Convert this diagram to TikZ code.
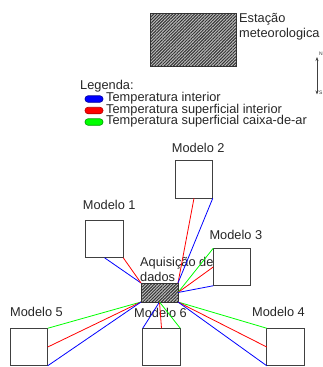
\documentclass[tikz,border=0pt]{standalone}
\usepackage{fontspec}
\setmainfont{Liberation Sans}
\usetikzlibrary{patterns.meta,arrows.meta}
\begin{document}
\begin{tikzpicture}[x=1pt,y=-1pt,
  txt/.style={inner sep=0pt,anchor=base west,font=\fontsize{12.8}{14}\selectfont,text=black!85},
  tiny/.style={inner sep=0pt,anchor=west,font=\fontsize{5}{6}\selectfont,text=black!80},
  modelbox/.style={draw=black!75,line width=0.9pt,fill=white,minimum width=37.5pt,minimum height=37.5pt,inner sep=0pt,outer sep=0pt},
  hatchbox/.style={draw=black!80,line width=0.9pt,inner sep=0pt,outer sep=0pt,fill=black!25,
    postaction={pattern={Lines[angle=45,distance=2.2pt,line width=1pt]},pattern color=black!80}},
  pill/.style={rounded corners=3pt,minimum width=18pt,minimum height=6.5pt,inner sep=0pt,line width=0.6pt},
  wire/.style={line width=0.8pt}
]
\useasboundingbox (0,0) rectangle (323,367);
% weather station
\node[hatchbox,minimum width=86pt,minimum height=53pt] (st) at (193,39.5) {};
\node[txt] (st1) at (239,22.5) {Estação};
\node[txt] (st2) at (239,37.5) {meteorologica};
% compass
\coordinate (cn) at (317,57);
\coordinate (cs) at (317,94.5);
\draw[line width=0.8pt,black!75,{Stealth[length=4pt,width=3pt]}-{Stealth[length=4pt,width=3pt]}] (cn) -- (cs);
\node[tiny] (nN) at (319,54) {N};
\node[tiny] (nS) at (319,93) {S};
% legend
\node[txt] (leg) at (80,89.3) {Legenda:};
\node[pill,fill=blue,draw=blue!60!black] (pb) at (94,99) {};
\node[pill,fill=red,draw=red!70!black] (pr) at (94,110.5) {};
\node[pill,fill=green,draw=green!60!black] (pg) at (94,122) {};
\node[txt] (lb) at (106,101.5) {Temperatura interior};
\node[txt] (lr) at (106,113) {Temperatura superficial interior};
\node[txt] (lg) at (106,124.5) {Temperatura superficial caixa-de-ar};
% model boxes
\node[modelbox] (m1) at (104.5,239) {};
\node[modelbox] (m2) at (194,179.5) {};
\node[modelbox] (m3) at (232,267) {};
\node[modelbox] (m5) at (29,347) {};
\node[modelbox] (m6) at (161.5,347) {};
\node[modelbox] (m4) at (285.5,347) {};
\node[txt] (l1) at (82.7,209.5) {Modelo 1};
\node[txt] (l2) at (171.7,152) {Modelo 2};
\node[txt] (l3) at (209.3,239.5) {Modelo 3};
\node[txt] (l5) at (10,316.7) {Modelo 5};
\node[txt] (l6) at (134,317) {Modelo 6};
\node[txt] (l4) at (252,316.7) {Modelo 4};
% acquisition
\node[hatchbox,minimum width=37pt,minimum height=19pt] (aq) at (159.5,292.5) {};
\node[txt] (aq1) at (140,266.5) {Aquisição de};
\node[txt] (aq2) at (140,281.5) {dados};
% wires
\draw[wire,blue] (m1.south) -- (aq.north west);
\draw[wire,red] (m1.south east) -- (aq.north west);
\draw[wire,red] (m2.south) -- (aq.north east);
\draw[wire,blue] (m2.south east) -- (aq.north east);
\draw[wire,green] (m3.north west) -- (aq.east);
\draw[wire,red] (m3.west) -- (aq.east);
\draw[wire,blue] (m3.south west) -- (aq.east);
\draw[wire,green] (m5.north east) -- (aq.south west);
\draw[wire,red] (m5.east) -- (aq.south west);
\draw[wire,blue] (m5.south east) -- (aq.south west);
\draw[wire,blue] (m6.north west) -- (aq.south);
\draw[wire,red] (m6.north) -- (aq.south);
\draw[wire,green] (m6.north east) -- (aq.south);
\draw[wire,green] (m4.north west) -- (aq.south east);
\draw[wire,red] (m4.west) -- (aq.south east);
\draw[wire,blue] (m4.south west) -- (aq.south east);
\end{tikzpicture}
\end{document}
